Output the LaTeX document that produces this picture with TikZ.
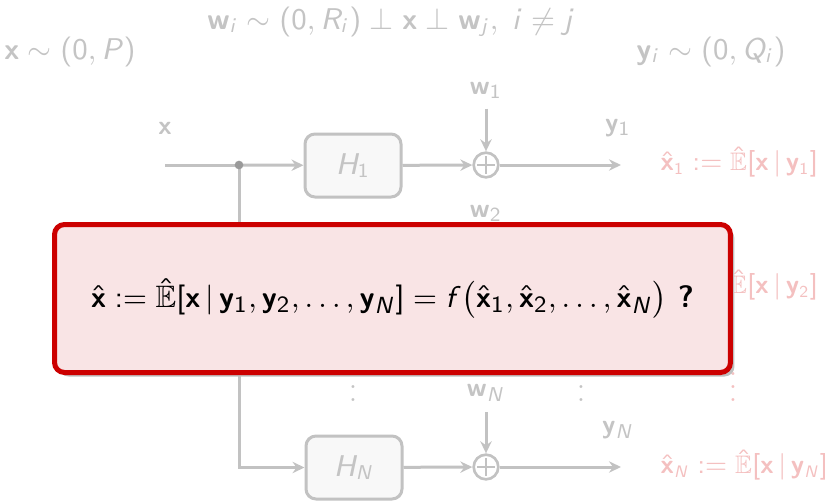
\documentclass[tikz,border=0pt]{standalone}
\usepackage{amsmath,amssymb}
\usepackage{tikz}
\usetikzlibrary{arrows.meta,positioning,shadows}
% sans serif math, slanted letters
\DeclareSymbolFont{sfletters}{OT1}{cmss}{m}{sl}
\SetSymbolFont{operators}{normal}{OT1}{cmss}{m}{n}
\DeclareMathAlphabet{\mathbf}{OT1}{cmss}{bx}{n}
\newcommand\sfletter[1]{\DeclareMathSymbol{#1}{\mathalpha}{sfletters}{`#1}}
\sfletter a\sfletter b\sfletter c\sfletter d\sfletter e\sfletter f\sfletter g
\sfletter h\sfletter i\sfletter j\sfletter k\sfletter l\sfletter m\sfletter n
\sfletter o\sfletter p\sfletter q\sfletter r\sfletter s\sfletter t\sfletter u
\sfletter v\sfletter w\sfletter x\sfletter y\sfletter z
\sfletter A\sfletter B\sfletter C\sfletter D\sfletter E\sfletter F\sfletter G
\sfletter H\sfletter I\sfletter J\sfletter K\sfletter L\sfletter M\sfletter N
\sfletter O\sfletter P\sfletter Q\sfletter R\sfletter S\sfletter T\sfletter U
\sfletter V\sfletter W\sfletter X\sfletter Y\sfletter Z
\definecolor{sysGray}{HTML}{C2C2C2}
\definecolor{sysDot}{HTML}{9A9A9A}
\definecolor{sysPaper}{HTML}{F8F8F8}
\definecolor{sysText}{HTML}{C4C4C4}
\definecolor{estPink}{HTML}{F4C0C0}
\definecolor{askRed}{HTML}{CC0000}
\definecolor{askPink}{HTML}{F9E4E5}
\tikzset{
  block/.style={
    draw=sysGray,
    line width=0.9pt,
    rounded corners=3pt,
    fill=sysPaper,
    text=sysText,
    minimum width=28.8pt,
    minimum height=18.9pt,
    inner sep=0pt,
    font=\fontsize{8.6}{10}\selectfont
  },
  summer/.style={
    circle,
    draw=sysGray,
    line width=0.8pt,
    minimum size=7.4pt,
    inner sep=0pt,
    path picture={
      \draw[sysGray, line width=0.5pt]
        ([yshift=-1pt]path picture bounding box.north) -- ([yshift=1pt]path picture bounding box.south)
        ([xshift=1pt]path picture bounding box.west) -- ([xshift=-1pt]path picture bounding box.east);
    }
  },
  signal/.style={-{Stealth[length=3.6pt, width=3.4pt, inset=1.2pt]}, line width=0.9pt, draw=sysGray},
  wire/.style={line width=0.9pt, draw=sysGray},
  tag/.style={text=sysText, font=\footnotesize, inner sep=1pt},
  estimate/.style={text=estPink, font=\fontsize{7.6}{9}\selectfont, anchor=west, inner sep=0pt},
  prior/.style={text=sysText, font=\fontsize{8.7}{10}\selectfont},
  question/.style={
    draw=askRed,
    fill=askPink,
    line width=1.5pt,
    rounded corners=3pt,
    minimum width=202.8pt,
    minimum height=44.4pt,
    drop shadow={shadow xshift=1.2pt, shadow yshift=-1.2pt, fill=black!25, opacity=1},
    font=\fontsize{9.3}{11}\selectfont
  }
}

\begin{document}
\begin{tikzpicture}[x=0.3pt, y=-0.3pt]
  \useasboundingbox (0,0) rectangle (825,501);

  % priors
  \node[prior] (px) at (70,52) {$\mathbf{x}\sim(0,P)$};
  \node[prior] (pw) at (391,22) {$\mathbf{w}_i\sim(0,R_i)\perp\mathbf{x}\perp\mathbf{w}_j,\; i\neq j$};
  \node[prior] (py) at (711,52) {$\mathbf{y}_i\sim(0,Q_i)$};

  % input
  \coordinate (in) at (165,165);
  \coordinate (split) at (239,165);
  \node[tag] (xlab) at (165,128) {$\mathbf{x}$};

  % channel 1
  \node[block] (H1) at (353,165.5) {$H_1$};
  \node[summer] (sum1) at (486,165) {};
  \node[tag] (w1) at (486,90) {$\mathbf{w}_1$};
  \coordinate (out1) at (621,165);
  \node[tag] (y1) at (618,128) {$\mathbf{y}_1$};
  \node[estimate] (est1) at (660,162) {$\hat{\mathbf{x}}_1 := \hat{\mathbb{E}}[\mathbf{x}\,|\,\mathbf{y}_1]$};

  % channel 2
  \node[block] (H2) at (353,288) {$H_2$};
  \node[summer] (sum2) at (486,288) {};
  \node[tag] (w2) at (486,213) {$\mathbf{w}_2$};
  \coordinate (out2) at (621,288);
  \node[tag] (y2) at (618,251) {$\mathbf{y}_2$};
  \node[estimate] (est2) at (660,285) {$\hat{\mathbf{x}}_2 := \hat{\mathbb{E}}[\mathbf{x}\,|\,\mathbf{y}_2]$};

  % channel N
  \node[block] (HN) at (354,467.5) {$H_N$};
  \node[summer] (sumN) at (486,467) {};
  \node[tag] (wN) at (486,393) {$\mathbf{w}_N$};
  \coordinate (outN) at (621,467);
  \node[tag] (yN) at (618,430) {$\mathbf{y}_N$};
  \node[estimate] (estN) at (660,465) {$\hat{\mathbf{x}}_N := \hat{\mathbb{E}}[\mathbf{x}\,|\,\mathbf{y}_N]$};

  \node[tag] (dotsH) at (353,377) {$\vdots$};
  \node[tag] (dotsY) at (581,377) {$\vdots$};
  \node[tag, text=estPink] (dotsE) at (733,377) {$\vdots$};

  \draw[wire] (in) -- (split);
  \draw[signal] (split) -- (H1);
  \draw[signal] (split |- H2) -- (H2);
  \draw[signal] (split) |- (HN);
  \fill[sysDot] (split) circle (1.3pt);

  \draw[signal] (H1) -- (sum1);
  \draw[signal] (sum1) -- (out1);
  \draw[signal, shorten <=2pt] (w1) -- (sum1);
  \draw[signal] (H2) -- (sum2);
  \draw[signal] (sum2) -- (out2);
  \draw[signal, shorten <=2pt] (w2) -- (sum2);
  \draw[signal] (HN) -- (sumN);
  \draw[signal] (sumN) -- (outN);
  \draw[signal, shorten <=2pt] (wN) -- (sumN);

  % the question
  \node[question] (ask) at (392.5,298.5) {$\hat{\mathbf{x}} := \hat{\mathbb{E}}[\mathbf{x}\,|\,\mathbf{y}_1,\mathbf{y}_2,\dots,\mathbf{y}_N] = f\bigl(\hat{\mathbf{x}}_1,\hat{\mathbf{x}}_2,\dots,\hat{\mathbf{x}}_N\bigr)$ \textbf{\sffamily ?}};
\end{tikzpicture}
\end{document}
